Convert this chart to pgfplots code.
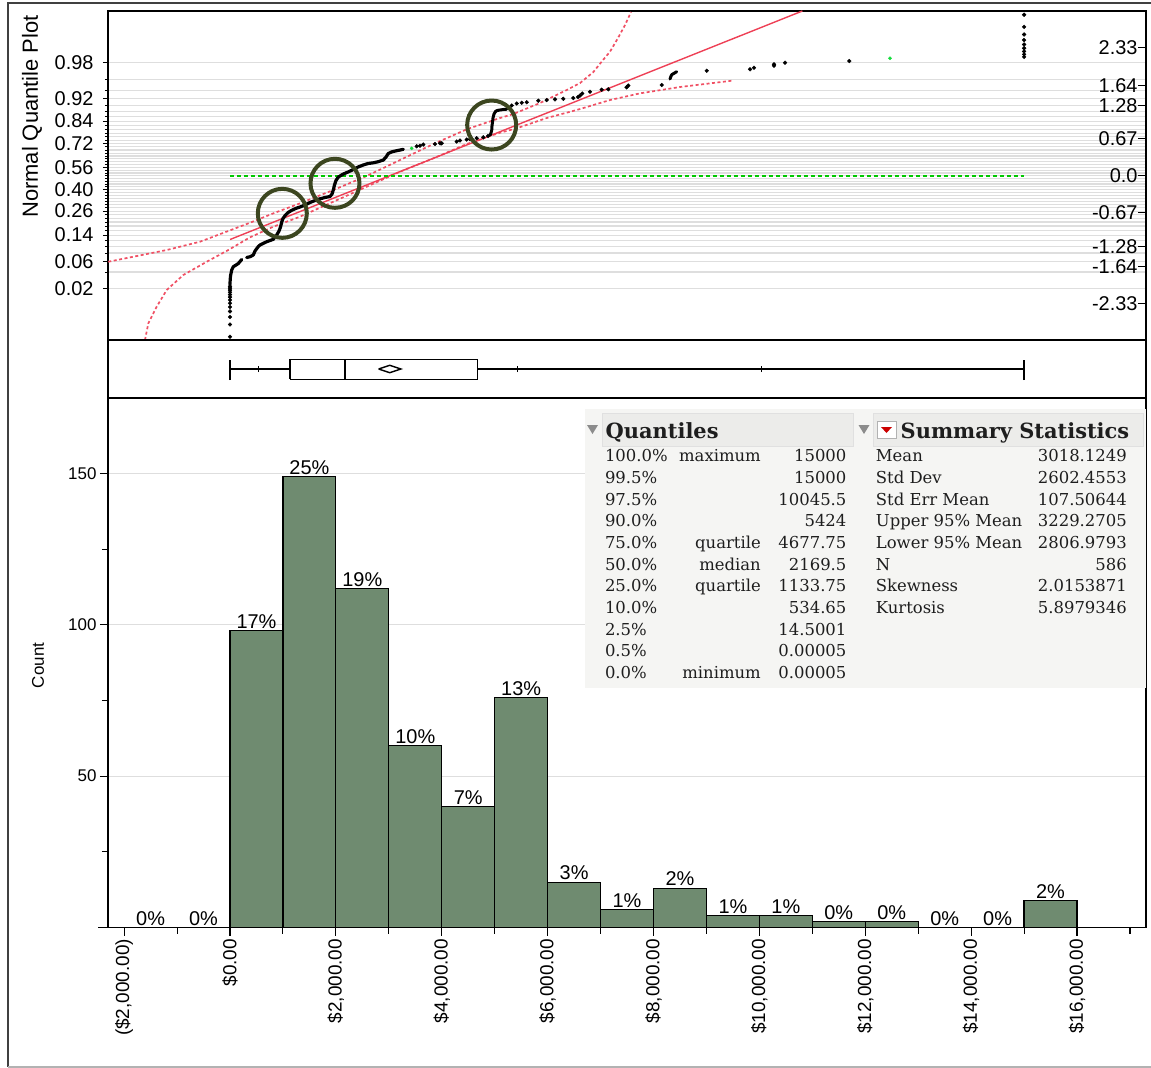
\documentclass[border=0pt]{standalone}
\usepackage{fontspec}
\setmainfont{Liberation Sans}
\newfontfamily\tabfont{DejaVu Serif}
\usepackage{pgfplots}
\pgfplotsset{compat=1.18}
\definecolor{barfill}{RGB}{111,139,112}
\definecolor{gridgray}{RGB}{222,222,222}
\definecolor{fitred}{RGB}{238,64,86}
\definecolor{bandred}{RGB}{240,80,100}
\definecolor{olivec}{RGB}{60,70,32}
\definecolor{ptgreen}{RGB}{20,220,60}
\definecolor{zerogreen}{RGB}{0,200,0}
\definecolor{tabbg}{RGB}{245,245,243}
\definecolor{tabhead}{RGB}{236,236,234}
\definecolor{tabtext}{RGB}{30,30,30}
\newcommand{\qrow}[4]{%
  \node[anchor=base west, inner sep=0] at (604.8bp,-#1bp) {#2};
  \node[anchor=base east, inner sep=0] at (761bp,-#1bp) {#3};
  \node[anchor=base east, inner sep=0] at (846.6bp,-#1bp) {#4};}
\newcommand{\srow}[3]{%
  \node[anchor=base west, inner sep=0] at (875.7bp,-#1bp) {#2};
  \node[anchor=base east, inner sep=0] at (1127bp,-#1bp) {#3};}
\begin{document}
\begin{tikzpicture}
\path[use as bounding box] (0,0) rectangle (1151bp,-1068bp);
\draw[line width=1.2bp, black!75] (8bp,-1067bp) -- (8bp,-3bp) -- (1151bp,-3bp);
\draw[line width=1.2bp, black!30] (8bp,-1067bp) -- (1151bp,-1067bp);

% ---------------- normal quantile plot ----------------
\begin{axis}[
  at={(108bp,-340bp)}, anchor=south west, scale only axis,
  width=1038bp, height=329bp,
  xmin=-2304.6, xmax=17303, ymin=-2.987, ymax=2.995,
  axis line style={line width=1.6bp},
  xtick=\empty,
  ytick={-2.054,-1.555,-1.080,-0.643,-0.253,0.151,0.583,0.994,1.405,2.054},
  yticklabels={0.02,0.06,0.14,0.26,0.40,0.56,0.72,0.84,0.92,0.98},
  minor ytick={-2.054,-1.751,-1.555,-1.405,-1.282,-1.175,-1.080,-0.994,-0.915,-0.842,-0.772,-0.706,-0.643,-0.583,-0.524,-0.468,-0.412,-0.358,-0.305,-0.253,-0.202,-0.151,-0.100,-0.050,0,0.050,0.100,0.151,0.202,0.253,0.305,0.358,0.412,0.468,0.524,0.583,0.643,0.706,0.772,0.842,0.915,0.994,1.080,1.175,1.282,1.405,1.555,1.751,2.054},
  ymajorgrids, yminorgrids,
  major grid style={gridgray, line width=1.1bp},
  minor grid style={gridgray, line width=1.1bp},
  tick align=outside, ytick pos=left,
  major tick length=5bp, minor tick length=3bp,
  tick style={black, line width=0.9bp},
  yticklabel style={font=\fontsize{20}{24}\selectfont, xshift=-6bp},
  ylabel={Normal Quantile Plot},
  ylabel style={at={(rel axis cs:-0.0732,0.997)}, anchor=east, font=\fontsize{22}{26}\selectfont},
]
% confidence bands
\addplot[color=bandred, line width=1.7bp, dash pattern=on 3bp off 2.5bp] coordinates {
(-2299,-1.564) (-1827,-1.473) (-1196,-1.351) (-567,-1.2) (-32,-1.005) (378,-0.855) (818,-0.684) (1322,-0.502) (1951,-0.260) (2582,-0.005) (3211,0.285) (3840,0.576) (4471,0.844) (5100,1.049) (5352,1.122) (5856,1.322) (6360,1.558) (6612,1.685) (6863,1.885) (7046,2.104) (7178,2.255) (7329,2.504) (7462,2.740) (7575,2.976)};
\addplot[color=bandred, line width=1.7bp, dash pattern=on 3bp off 2.5bp] coordinates {
(-1606,-2.987) (-1543,-2.684) (-1385,-2.382) (-1196,-2.078) (-882,-1.805) (-440,-1.564) (-32,-1.351) (378,-1.12) (818,-0.927) (1322,-0.745) (1951,-0.473) (2582,-0.2) (3211,0.073) (3840,0.316) (4471,0.576) (5100,0.782) (5416,0.862) (5982,1.049) (6549,1.195) (7178,1.376) (7745,1.498) (8501,1.613) (9477,1.727)};
% fitted line
\addplot[color=fitred, line width=1.4bp] coordinates {(0,-1.1597) (10812,2.995)};
% zero reference
\addplot[color=zerogreen, line width=2bp, dash pattern=on 4bp off 3bp] coordinates {(0,0.003) (15000,0.003)};
% data: dense runs
\addplot[black, line width=3.2bp, line cap=round, line join=round] coordinates {
(0,-1.98) (0,-1.951) (9,-1.824) (32,-1.715) (62,-1.655) (113,-1.624) (157,-1.596) (221,-1.524)};
\addplot[black, line width=3.2bp, line cap=round, line join=round] coordinates {
(315,-1.487) (378,-1.473) (440,-1.442) (472,-1.369) (535,-1.287) (567,-1.260) (629,-1.229) (693,-1.2) (756,-1.178) (818,-1.156) (882,-1.078) (926,-1.005) (954,-0.933) (977,-0.842) (1001,-0.778) (1039,-0.724) (1096,-0.669) (1166,-0.629) (1247,-0.593) (1322,-0.569) (1417,-0.533) (1511,-0.487) (1606,-0.451) (1700,-0.42) (1795,-0.396) (1889,-0.378) (1927,-0.333) (1951,-0.26) (1974,-0.169) (2002,-0.087) (2046,-0.024) (2140,0.031) (2229,0.067) (2329,0.113) (2418,0.158) (2518,0.195) (2607,0.222) (2707,0.235) (2801,0.255) (2896,0.285) (2947,0.34) (2990,0.404) (3060,0.435) (3149,0.455) (3211,0.467) (3274,0.48)};
\addplot[black, line width=3bp, line cap=round, line join=round] coordinates {
(4911,0.735) (4930,0.776) (4944,0.831) (4949,0.904) (4959,0.976) (4968,1.049) (4987,1.122) (5015,1.167) (5044,1.185) (5100,1.195) (5163,1.204) (5227,1.209)};
\addplot[black, line width=3bp, line cap=round, line join=round] coordinates {
(8312,1.758) (8331,1.813) (8349,1.84) (8438,1.891)};
% data: separate points
\addplot[only marks, mark=*, mark size=1.9bp, black] coordinates {
(0,-2.927) (0,-2.706) (0,-2.568) (0,-2.467) (0,-2.386) (0,-2.318) (0,-2.260) (0,-2.207) (0,-2.161) (0,-2.119) (0,-2.080) (0,-2.044) (0,-2.011)
(3527,0.535) (3589,0.545) (3651,0.567) (3872,0.576) (3967,0.589) (3999,0.589) (4282,0.622) (4345,0.64) (4471,0.658) (4534,0.662) (4660,0.682) (4785,0.698) (4874,0.722)
(5321,1.276) (5416,1.313) (5510,1.327) (5605,1.336) (5824,1.364) (5982,1.376) (6139,1.389) (6296,1.398) (6485,1.413) (6574,1.431) (6612,1.458) (6655,1.495) (6800,1.527) (7021,1.564) (7146,1.571) (7490,1.607) (7524,1.64) (8155,1.649)
(9005,1.909) (9823,1.935) (9898,1.964) (10276,2.0) (10276,2.025) (10484,2.055) (11698,2.085)
(15000,2.161) (15000,2.207) (15000,2.260) (15000,2.318) (15000,2.386) (15000,2.467) (15000,2.568) (15000,2.706) (15000,2.927)};
\addplot[only marks, mark=*, mark size=1.6bp, ptgreen, mark options={draw=ptgreen}] coordinates {(3432,0.498) (12467,2.135)};
% annotation circles
\addplot[only marks, mark=o, mark size=24.5bp, olivec, line width=4bp] coordinates {(988,-0.684) (1983,-0.138) (4943,0.922)};
\end{axis}
% right-hand quantile scale
\begin{axis}[
  at={(108bp,-340bp)}, anchor=south west, scale only axis,
  width=1038bp, height=329bp,
  xmin=-2304.6, xmax=17303, ymin=-2.987, ymax=2.995,
  axis x line=none, axis y line*=right,
  axis line style={line width=1.6bp},
  ytick={-2.326,-1.645,-1.282,-0.674,0,0.674,1.282,1.645,2.326},
  yticklabels={-2.33,-1.64,-1.28,-0.67,0.0,0.67,1.28,1.64,2.33},
  tick align=inside, major tick length=8bp,
  tick style={black, line width=0.9bp},
  yticklabel style={anchor=east, xshift=-5bp, font=\fontsize{20}{24}\selectfont},
]
\addplot[draw=none] coordinates {(0,0)};
\end{axis}

% ---------------- box plot ----------------
\begin{axis}[
  at={(108bp,-398bp)}, anchor=south west, scale only axis,
  width=1038bp, height=58bp,
  xmin=-2304.6, xmax=17303, ymin=0, ymax=58,
  axis line style={line width=1.6bp},
  xtick=\empty, ytick=\empty,
]
\addplot[black, line width=1.4bp] coordinates {(0,29) (1133.75,29)};
\addplot[black, line width=1.4bp] coordinates {(4677.75,29) (15000,29)};
\addplot[black, line width=1.8bp] coordinates {(0,18) (0,38)};
\addplot[black, line width=1.8bp] coordinates {(15000,18) (15000,38)};
\addplot[black, line width=1.4bp, line join=miter] coordinates {(1133.75,18.7) (4677.75,18.7) (4677.75,38.7) (1133.75,38.7) (1133.75,18.7)};
\addplot[black, line width=1.4bp] coordinates {(2169.5,18.7) (2169.5,38.7)};
\addplot[black, line width=1.4bp, line join=miter] coordinates {(2806.98,29) (3018.12,32.7) (3229.27,29) (3018.12,25.3) (2806.98,29)};
\addplot[black, line width=1.2bp] coordinates {(534.65,26) (534.65,32)};
\addplot[black, line width=1.2bp] coordinates {(5424,26) (5424,32)};
\addplot[black, line width=1.2bp] coordinates {(10045.5,26) (10045.5,32)};
\end{axis}

% ---------------- histogram ----------------
\begin{axis}[
  at={(108bp,-927.5bp)}, anchor=south west, scale only axis,
  width=1038bp, height=529.5bp,
  xmin=-2304.6, xmax=17303, ymin=0, ymax=174.9,
  scaled ticks=false,
  axis line style={line width=1.6bp},
  xtick={-2000,0,2000,4000,6000,8000,10000,12000,14000,16000},
  xticklabels={{(\$2,000.00)},{\$0.00},{\$2,000.00},{\$4,000.00},{\$6,000.00},{\$8,000.00},{\$10,000.00},{\$12,000.00},{\$14,000.00},{\$16,000.00}},
  minor xtick={-1000,1000,3000,5000,7000,9000,11000,13000,15000,17000},
  ytick={50,100,150}, yticklabels={50,100,150},
  minor ytick={25,75,125},
  ymajorgrids, major grid style={gridgray, line width=1bp},
  tick align=outside, xtick pos=bottom, ytick pos=left,
  major tick length=8bp, minor tick length=6bp,
  tick style={black, line width=1.1bp},
  xticklabel style={rotate=90, anchor=east, font=\fontsize{19}{22}\selectfont},
  yticklabel style={font=\fontsize{17}{20}\selectfont},
  ylabel={Count},
  ylabel style={at={(rel axis cs:-0.0674,0.495)}, anchor=center, font=\fontsize{17}{20}\selectfont},
]
\addplot[ybar, bar width=1000, bar shift=0pt, fill=barfill, draw=black, line width=1.2bp,
  nodes near coords, point meta=explicit symbolic,
  every node near coord/.append style={font=\fontsize{20}{24}\selectfont, inner sep=1.5bp, black}]
coordinates {
(-1500,0) [0\%]
(-500,0) [0\%]
(500,98) [17\%]
(1500,149) [25\%]
(2500,112) [19\%]
(3500,60) [10\%]
(4500,40) [7\%]
(5500,76) [13\%]
(6500,15) [3\%]
(7500,6) [1\%]
(8500,13) [2\%]
(9500,4) [1\%]
(10500,4) [1\%]
(11500,2) [0\%]
(12500,2) [0\%]
(13500,0) [0\%]
(14500,0) [0\%]
(15500,9) [2\%]
};
\end{axis}
\draw[line width=1.6bp] (98bp,-927.5bp) -- (108bp,-927.5bp);

% ---------------- tables ----------------
\fill[tabbg] (585bp,-409bp) rectangle (1146bp,-688bp);
\draw[black!12, fill=tabhead] (602bp,-413bp) rectangle (853bp,-446bp);
\draw[black!12, fill=tabhead] (873bp,-413bp) rectangle (1143bp,-446bp);
\fill[black!45] (587bp,-425bp) -- (598bp,-425bp) -- (592.5bp,-434bp) -- cycle;
\fill[black!45] (858.5bp,-425bp) -- (869.5bp,-425bp) -- (864bp,-434bp) -- cycle;
\draw[black!30, fill=white] (877bp,-421bp) rectangle (896bp,-438bp);
\fill[red!80!black] (881bp,-427bp) -- (892bp,-427bp) -- (886.5bp,-433bp) -- cycle;
\begin{scope}[font=\tabfont\bfseries\fontsize{21}{24}\selectfont, text=tabtext]
\node[anchor=base west, inner sep=0] at (605.5bp,-438bp) {Quantiles};
\node[anchor=base west, inner sep=0] at (900.5bp,-438bp) {Summary Statistics};
\end{scope}
\begin{scope}[font=\tabfont\fontsize{16.5}{19}\selectfont, text=tabtext]
\qrow{461.7}{100.0\%}{maximum}{15000}
\qrow{483.3}{99.5\%}{}{15000}
\qrow{505.0}{97.5\%}{}{10045.5}
\qrow{526.7}{90.0\%}{}{5424}
\qrow{548.3}{75.0\%}{quartile}{4677.75}
\qrow{570.0}{50.0\%}{median}{2169.5}
\qrow{591.7}{25.0\%}{quartile}{1133.75}
\qrow{613.3}{10.0\%}{}{534.65}
\qrow{635.0}{2.5\%}{}{14.5001}
\qrow{656.7}{0.5\%}{}{0.00005}
\qrow{678.3}{0.0\%}{minimum}{0.00005}
\srow{461.7}{Mean}{3018.1249}
\srow{483.3}{Std Dev}{2602.4553}
\srow{505.0}{Std Err Mean}{107.50644}
\srow{526.7}{Upper 95\% Mean}{3229.2705}
\srow{548.3}{Lower 95\% Mean}{2806.9793}
\srow{570.0}{N}{586}
\srow{591.7}{Skewness}{2.0153871}
\srow{613.3}{Kurtosis}{5.8979346}
\end{scope}
\end{tikzpicture}
\end{document}
